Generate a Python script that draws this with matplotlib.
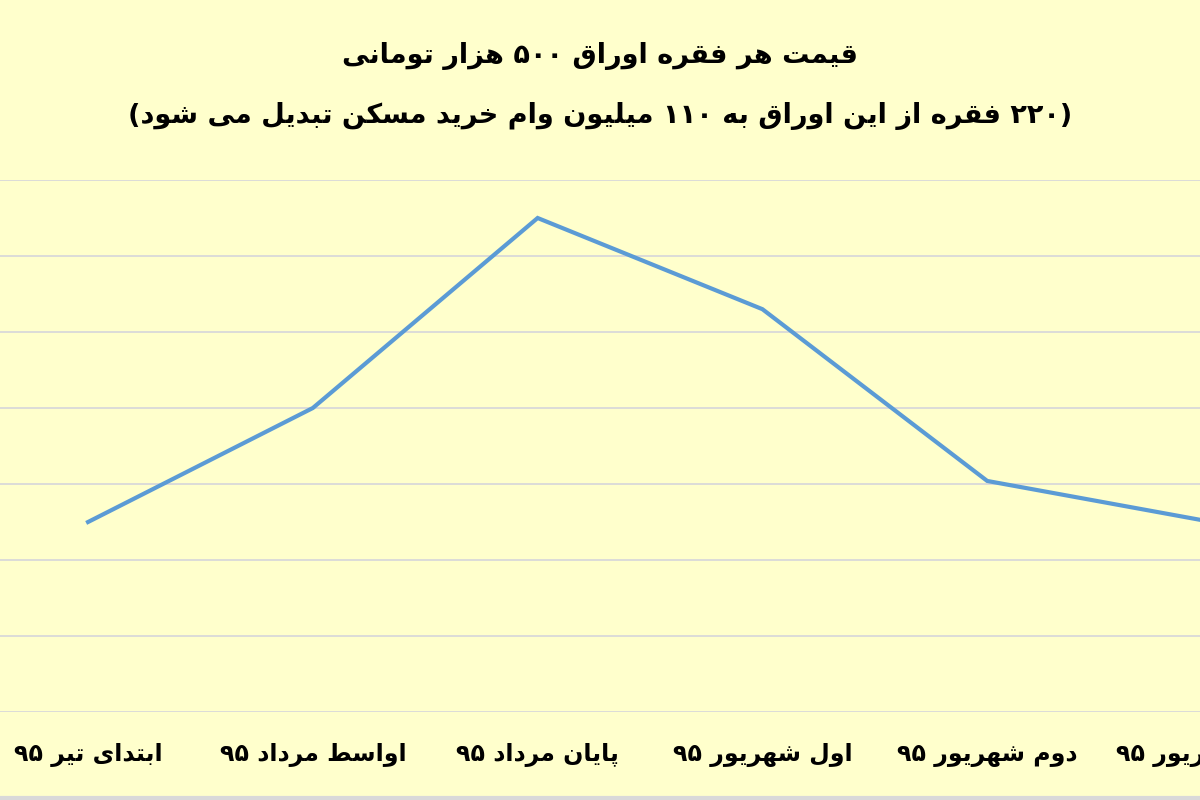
import re
import matplotlib
matplotlib.use('Agg')
import matplotlib.pyplot as plt

# data (thousand toman, y labels are cropped in the source)
categories = ['ابتدای تیر ۹۵', 'اواسط مرداد ۹۵', 'پایان مرداد ۹۵',
              'اول شهریور ۹۵', 'دوم شهریور ۹۵', 'سوم شهریور ۹۵']
prices = [25.0, 40.0, 65.0, 53.0, 30.4, 25.0]

title_1 = 'قیمت هر فقره اوراق ۵۰۰ هزار تومانی'
title_2 = '(۲۲۰ فقره از این اوراق به ۱۱۰ میلیون وام خرید مسکن تبدیل می شود)'

bg = '#FFFFCC'
line_color = '#5B9BD5'
grid_color = '#D9D9D9'

# presentation forms: isolated, final, initial, medial
FORMS = {
    'ا': ('\uFE8D', '\uFE8E', None, None),
    'ب': ('\uFE8F', '\uFE90', '\uFE91', '\uFE92'),
    'پ': ('\uFB56', '\uFB57', '\uFB58', '\uFB59'),
    'ت': ('\uFE95', '\uFE96', '\uFE97', '\uFE98'),
    'خ': ('\uFEA5', '\uFEA6', '\uFEA7', '\uFEA8'),
    'د': ('\uFEA9', '\uFEAA', None, None),
    'ر': ('\uFEAD', '\uFEAE', None, None),
    'ز': ('\uFEAF', '\uFEB0', None, None),
    'س': ('\uFEB1', '\uFEB2', '\uFEB3', '\uFEB4'),
    'ش': ('\uFEB5', '\uFEB6', '\uFEB7', '\uFEB8'),
    'ط': ('\uFEC1', '\uFEC2', '\uFEC3', '\uFEC4'),
    'ف': ('\uFED1', '\uFED2', '\uFED3', '\uFED4'),
    'ق': ('\uFED5', '\uFED6', '\uFED7', '\uFED8'),
    'ک': ('\uFB8E', '\uFB8F', '\uFB90', '\uFB91'),
    'ل': ('\uFEDD', '\uFEDE', '\uFEDF', '\uFEE0'),
    'م': ('\uFEE1', '\uFEE2', '\uFEE3', '\uFEE4'),
    'ن': ('\uFEE5', '\uFEE6', '\uFEE7', '\uFEE8'),
    'ه': ('\uFEE9', '\uFEEA', '\uFEEB', '\uFEEC'),
    'و': ('\uFEED', '\uFEEE', None, None),
    'ی': ('\uFBFC', '\uFBFD', '\uFBFE', '\uFBFF'),
}


def shape(s):
    out = []
    for i, c in enumerate(s):
        f = FORMS.get(c)
        if f is None:
            out.append(c)
            continue
        prev = s[i - 1] if i > 0 else None
        nxt = s[i + 1] if i + 1 < len(s) else None
        jp = prev in FORMS and FORMS[prev][2] is not None
        jn = f[2] is not None and nxt in FORMS
        if jp and jn:
            out.append(f[3])
        elif jp:
            out.append(f[1])
        elif jn:
            out.append(f[2])
        else:
            out.append(f[0])
    return ''.join(out)


def persian(text):
    # poor man's bidi: whole line right to left, numbers stay left to right
    vis = shape(text)[::-1]
    vis = re.sub('[۰-۹0-9]+', lambda m: m.group(0)[::-1], vis)
    return vis.translate(str.maketrans('()', ')('))


fig = plt.figure(figsize=(12, 8), dpi=100, facecolor=bg)
ax = fig.add_axes([-0.0203, 0.11, 1.124, 0.665])
ax.set_facecolor(bg)

x = list(range(len(categories)))
ax.plot(x, prices, color=line_color, linewidth=3.0, solid_joinstyle='miter', zorder=3)

ax.set_xlim(-0.5, len(categories) - 0.5)
ax.set_ylim(0, 70)
ax.set_yticks(range(0, 71, 10))
ax.yaxis.grid(True, color=grid_color, linewidth=1.3)
ax.set_axisbelow(True)
ax.set_yticklabels([])
ax.set_xticks(x)
ax.set_xticklabels([persian(c) for c in categories], fontsize=17, fontweight='bold',
                   family=['DejaVu Sans'])
ax.tick_params(axis='both', length=0, pad=22)
for s in ax.spines.values():
    s.set_visible(False)

fig.text(0.5, 0.93, persian(title_1), ha='center', va='center', fontsize=19.5,
         fontweight='bold', family=['DejaVu Sans'])
fig.text(0.5, 0.855, persian(title_2), ha='center', va='center', fontsize=19.5,
         fontweight='bold', family=['DejaVu Sans'])

# grey border at the bottom edge
fig.add_artist(plt.Line2D([0, 1], [0.002, 0.002], color=grid_color, linewidth=3))

fig.savefig('out.png', dpi=100, facecolor=bg)
